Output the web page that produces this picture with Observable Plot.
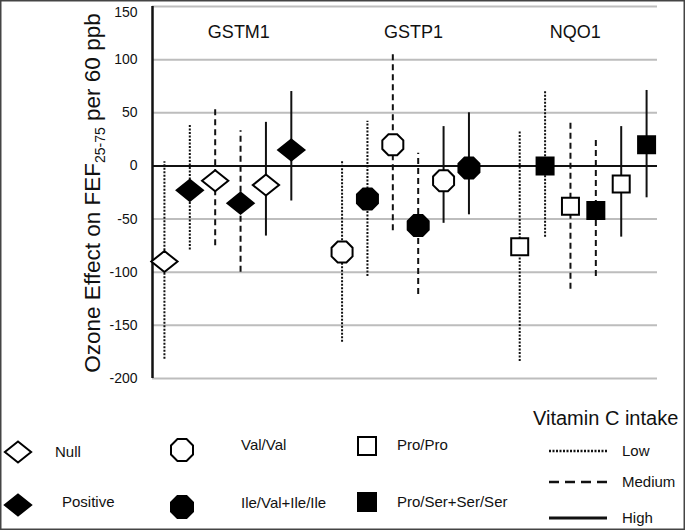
<!DOCTYPE html>
<html>
<head>
<meta charset="utf-8">
<script src="https://cdn.jsdelivr.net/npm/d3@7"></script>
<script src="https://cdn.jsdelivr.net/npm/@observablehq/plot@0.6"></script>
<style>
  html, body { margin: 0; padding: 0; background: #fff; }
  #wrap { position: relative; width: 685px; height: 530px; overflow: hidden; background: #fff; }
  #overlay { position: absolute; left: 0; top: 0; pointer-events: none; }
</style>
</head>
<body>
<div id="wrap"></div>
<script>
// ---- data ----
const genes = ["GSTM1", "GSTP1", "NQO1"];
const intakes = ["Low", "Medium", "High"];
const gene = ["GSTM1","GSTM1","GSTM1","GSTM1","GSTM1","GSTM1",
              "GSTP1","GSTP1","GSTP1","GSTP1","GSTP1","GSTP1",
              "NQO1","NQO1","NQO1","NQO1","NQO1","NQO1"];
const genotype = ["Null","Positive","Null","Positive","Null","Positive",
                  "Val/Val","Ile/Val+Ile/Ile","Val/Val","Ile/Val+Ile/Ile","Val/Val","Ile/Val+Ile/Ile",
                  "Pro/Pro","Pro/Ser+Ser/Ser","Pro/Pro","Pro/Ser+Ser/Ser","Pro/Pro","Pro/Ser+Ser/Ser"];
const intake = ["Low","Low","Medium","Medium","High","High",
                "Low","Low","Medium","Medium","High","High",
                "Low","Low","Medium","Medium","High","High"];
const estimate = [-90, -23, -14, -35, -18, 15,
                  -81, -31, 20, -56, -14, -2,
                  -76, 0, -38, -42, -17, 20];
const lower = [-182, -79, -75, -100, -66, -33,
               -166, -104, -61, -121, -54, -46,
               -184, -67, -116, -104, -67, -30];
const upper = [4, 38, 55, 33, 41, 70,
               4, 42, 108, 12, 37, 50,
               33, 71, 42, 25, 37, 71];
const yTicks = [-200, -150, -100, -50, 0, 50, 100, 150];
const openGenotypes = ["Null", "Val/Val", "Pro/Pro"];

// ---- table ----
const table = gene.map((g, i) => ({
  gene: g,
  genotype: genotype[i],
  intake: intake[i],
  est: estimate[i],
  lo: lower[i],
  hi: upper[i],
  open: openGenotypes.includes(genotype[i]),
  pos: genes.indexOf(g) * 7 + intakes.indexOf(intake[i]) * 2 + (openGenotypes.includes(genotype[i]) ? 0 : 1)
}));

// ---- custom symbols ----
const diamondSym = { draw(ctx, size) { const r = Math.sqrt(size / Math.PI); const w = r * 1.25, h = r;
  ctx.moveTo(0, -h); ctx.lineTo(w, 0); ctx.lineTo(0, h); ctx.lineTo(-w, 0); ctx.closePath(); } };
const octagonSym = { draw(ctx, size) { const r = Math.sqrt(size / Math.PI); const R = r / Math.cos(Math.PI / 8);
  for (let k = 0; k < 8; k++) { const a = Math.PI / 8 + k * Math.PI / 4; const px = R * Math.cos(a), py = R * Math.sin(a);
    if (k === 0) ctx.moveTo(px, py); else ctx.lineTo(px, py); } ctx.closePath(); } };
const squareSym = { draw(ctx, size) { const r = Math.sqrt(size / Math.PI);
  ctx.moveTo(-r, -r); ctx.lineTo(r, -r); ctx.lineTo(r, r); ctx.lineTo(-r, r); ctx.closePath(); } };
const symFor = { GSTM1: diamondSym, GSTP1: octagonSym, NQO1: squareSym };
const rFor = { GSTM1: 10.5, GSTP1: 10.5, NQO1: 8.5 };
const dashFor = { Low: "2,1.5", Medium: "6,4", High: null };
const titleDx = [11, 8, -8];

const font = "'Liberation Sans', Arial, Helvetica, sans-serif";

const marks = [
  Plot.ruleY(yTicks.filter(v => v !== 0), { stroke: "#bdbdbd", strokeWidth: 2 }),
  Plot.ruleY([0], { stroke: "#111", strokeWidth: 2 }),
  Plot.ruleX([-0.47], { stroke: "#111", strokeWidth: 2.5 })
];
for (const it of intakes) {
  const opts = { x: "pos", y1: "lo", y2: "hi", stroke: "#111", strokeWidth: 2 };
  if (dashFor[it]) opts.strokeDasharray = dashFor[it];
  marks.push(Plot.ruleX(table.filter(d => d.intake === it), opts));
}
for (const g of genes) {
  for (const open of [true, false]) {
    marks.push(Plot.dot(table.filter(d => d.gene === g && d.open === open), {
      x: "pos", y: "est", r: rFor[g], symbol: symFor[g],
      fill: open ? "white" : "black", stroke: "black", strokeWidth: 2
    }));
  }
}
genes.forEach((g, i) => {
  marks.push(Plot.text([g], {
    x: () => i * 7 + 2.5, frameAnchor: "top", dy: 19, dx: titleDx[i], text: d => d,
    fontSize: 18, fill: "#111"
  }));
});

const chart = Plot.plot({
  width: 685,
  height: 392,
  marginLeft: 152,
  marginRight: 28,
  marginTop: 6,
  marginBottom: 14,
  style: { fontFamily: font, fontSize: "14px", color: "#111", background: "transparent", overflow: "visible" },
  x: { domain: [-0.47, 19.43], axis: null },
  y: { domain: [-200, 150], ticks: yTicks, tickSize: 0, tickPadding: 15, label: null, tickFormat: d => String(d) },
  marks
});
document.getElementById("wrap").appendChild(chart);

const svgSel = d3.select(chart.tagName.toLowerCase() === "svg" ? chart : chart.querySelector("svg"));
// nudge the top tick label so it stays inside the picture
svgSel.selectAll("text").filter(function () { return this.textContent === "150"; }).attr("dy", "0.45em");

// y-axis title with subscript
const yl = svgSel.append("text")
  .attr("transform", "translate(100,193) rotate(-90)")
  .attr("text-anchor", "middle")
  .attr("font-family", font)
  .attr("font-size", 22.5)
  .attr("fill", "#111");
yl.append("tspan").text("Ozone Effect on FEF");
yl.append("tspan").attr("font-size", 14).attr("dy", 5).text("25-75");
yl.append("tspan").attr("dy", -5).text(" per 60 ppb");

// ---- legend (below plot) ----
const legendGenotypes = [
  { label: "Null", sym: diamondSym, r: 10.5, open: true, sx: 18, sy: 452, tx: 55, ty: 452 },
  { label: "Positive", sym: diamondSym, r: 10.5, open: false, sx: 18, sy: 505, tx: 62, ty: 502 },
  { label: "Val/Val", sym: octagonSym, r: 11, open: true, sx: 182, sy: 450, tx: 241, ty: 445 },
  { label: "Ile/Val+Ile/Ile", sym: octagonSym, r: 11, open: false, sx: 182, sy: 507, tx: 241, ty: 503 },
  { label: "Pro/Pro", sym: squareSym, r: 9, open: true, sx: 367, sy: 446, tx: 397, ty: 445 },
  { label: "Pro/Ser+Ser/Ser", sym: squareSym, r: 9, open: false, sx: 367, sy: 502, tx: 397, ty: 502 }
];
const legendLines = [
  { label: "Low", dash: "2,1.5", w: 2.5, y: 451 },
  { label: "Medium", dash: "10,6", w: 2.5, y: 482 },
  { label: "High", dash: null, w: 3, y: 518 }
];

const ov = d3.select("#wrap").append("svg")
  .attr("id", "overlay").attr("width", 685).attr("height", 530)
  .attr("font-family", font);

for (const e of legendGenotypes) {
  ov.append("path")
    .attr("d", d3.symbol().type(e.sym).size(Math.PI * e.r * e.r)())
    .attr("transform", `translate(${e.sx},${e.sy})`)
    .attr("fill", e.open ? "white" : "black")
    .attr("stroke", "black").attr("stroke-width", 2);
  ov.append("text").attr("x", e.tx).attr("y", e.ty).attr("dy", "0.35em")
    .attr("font-size", 15).attr("fill", "#111").text(e.label);
}
ov.append("text").attr("x", 533).attr("y", 418).attr("dy", "0.35em")
  .attr("font-size", 20).attr("fill", "#111").text("Vitamin C intake");
for (const l of legendLines) {
  const ln = ov.append("line").attr("x1", 549).attr("x2", 607).attr("y1", l.y).attr("y2", l.y)
    .attr("stroke", "#111").attr("stroke-width", l.w);
  if (l.dash) ln.attr("stroke-dasharray", l.dash);
  ov.append("text").attr("x", 622).attr("y", l.y).attr("dy", "0.35em")
    .attr("font-size", 15).attr("fill", "#111").text(l.label);
}
// outer border
ov.append("rect").attr("x", 0.75).attr("y", 0.75).attr("width", 683.5).attr("height", 528.5)
  .attr("fill", "none").attr("stroke", "#444").attr("stroke-width", 1.5);
</script>
</body>
</html>
